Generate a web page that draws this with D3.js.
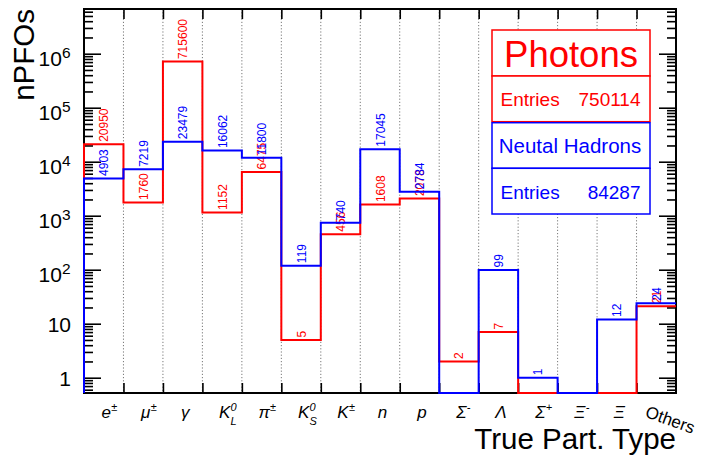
<!DOCTYPE html>
<html>
<head>
<meta charset="utf-8">
<script src="https://cdn.jsdelivr.net/npm/d3@7"></script>
<style>
  html, body { margin: 0; padding: 0; background: #fff; }
  svg { display: block; font-family: "Liberation Sans", Arial, Helvetica, sans-serif; }
</style>
</head>
<body>
<svg id="chart" width="704" height="455"></svg>
<script>
// Particle categories: base symbol, superscript and subscript parts
const categories = ["e", "μ", "γ", "K", "π", "K", "K", "n", "p", "Σ", "Λ", "Σ", "Ξ", "Ξ", "Others"];
const catSup     = ["±", "±", "",  "0", "±", "0", "±", "",  "",  "-", "",  "+", "-", "",  ""];
const catSub     = ["",  "",  "",  "L", "",  "S", "",  "",  "",  "",  "",  "",  "",  "",  ""];

// Counts per true particle type
const photons        = [20950, 1760, 715600, 1152, 6475, 5, 456, 1608, 2078, 2, 7, 0, 0, 0, 21];
const neutralHadrons = [4903, 7219, 23479, 16062, 11800, 119, 740, 17045, 2784, 0, 99, 1, 0, 12, 24];

const seriesNames   = ["Photons", "Neutal Hadrons"];
const seriesEntries = ["750114", "84287"];

// Y-axis decade labels (mantissa, exponent)
const yTickLabels = [["1", ""], ["10", ""], ["10", "2"], ["10", "3"], ["10", "4"], ["10", "5"], ["10", "6"]];
const yTickValues = [1, 10, 1e2, 1e3, 1e4, 1e5, 1e6];

const svg = d3.select("#chart");
const frame = { left: 84, right: 676, top: 9, bottom: 393 };
const n = categories.length;

const x = d3.scaleBand().domain(d3.range(n)).range([frame.left, frame.right]).paddingInner(0).paddingOuter(0);
const xEdge = d3.scaleLinear().domain([0, n]).range([frame.left, frame.right]);
const y = d3.scaleLog().domain([0.521, 6.73e6]).range([frame.bottom, frame.top]);
const bw = x.bandwidth();

// dotted vertical grid at bin edges
svg.append("g").selectAll("line")
  .data(d3.range(1, n))
  .join("line")
  .attr("x1", d => xEdge(d)).attr("x2", d => xEdge(d))
  .attr("y1", frame.top).attr("y2", frame.bottom)
  .attr("stroke", "#555").attr("stroke-width", 0.8)
  .attr("stroke-dasharray", "1.2,2");

// frame
svg.append("rect")
  .attr("x", frame.left).attr("y", frame.top)
  .attr("width", frame.right - frame.left).attr("height", frame.bottom - frame.top)
  .attr("fill", "none").attr("stroke", "#000").attr("stroke-width", 2);

// log axis ticks (left and right, pointing inwards)
const allTicks = y.ticks();
const isMajor = v => Math.abs(Math.log10(v) - Math.round(Math.log10(v))) < 1e-9;
const minorTicks = allTicks.filter(v => !isMajor(v));
const majorTicks = allTicks.filter(isMajor);

function tickAxis(axisFn, pos, vals, size) {
  const g = svg.append("g").attr("transform", pos)
    .call(axisFn(y).tickValues(vals).tickSize(size).tickFormat(""));
  g.select(".domain").remove();
  g.selectAll(".tick line").attr("stroke", "#000").attr("stroke-width", 1.6);
  return g;
}
tickAxis(d3.axisRight, `translate(${frame.left},0)`, minorTicks, 9);
tickAxis(d3.axisRight, `translate(${frame.left},0)`, majorTicks, 17);
tickAxis(d3.axisLeft, `translate(${frame.right},0)`, minorTicks, 9);
tickAxis(d3.axisLeft, `translate(${frame.right},0)`, majorTicks, 17);

// x ticks at bin edges (bottom up, top down)
function xTickAxis(axisFn, pos) {
  const g = svg.append("g").attr("transform", pos)
    .call(axisFn(xEdge).tickValues(d3.range(1, n)).tickSize(10).tickFormat(""));
  g.select(".domain").remove();
  g.selectAll(".tick line").attr("stroke", "#000").attr("stroke-width", 1.6);
}
xTickAxis(d3.axisTop, `translate(0,${frame.bottom})`);
xTickAxis(d3.axisBottom, `translate(0,${frame.top})`);

// y tick labels with exponents
const yLab = svg.append("g");
yTickValues.forEach((v, i) => {
  const ty = y(v);
  const [m, e] = yTickLabels[i];
  if (!e) {
    yLab.append("text").attr("x", 71).attr("y", ty + 8.5)
      .attr("text-anchor", "end").attr("font-size", 21).text(m);
  } else {
    const t = yLab.append("text").attr("x", 70.5).attr("y", ty + 12)
      .attr("text-anchor", "end").attr("font-size", 21);
    t.append("tspan").text(m);
    t.append("tspan").attr("dy", -8).attr("font-size", 15.5).text(e);
  }
});

// step outline for a histogram
function stepPoints(vals) {
  const pts = [[xEdge(0), frame.bottom]];
  vals.forEach((v, i) => {
    const yy = v > 0 ? y(v) : frame.bottom;
    pts.push([xEdge(i), yy], [xEdge(i + 1), yy]);
  });
  return pts;
}
const line = d3.line();

function drawSeries(vals, color) {
  svg.append("path")
    .attr("d", line(stepPoints(vals)))
    .attr("fill", "none").attr("stroke", color).attr("stroke-width", 2);
  svg.append("g").selectAll("text")
    .data(vals.map((v, i) => ({ v, i })).filter(d => d.v > 0))
    .join("text")
    .attr("transform", d => `translate(${x(d.i) + bw / 2 + 0.5},${y(d.v) - 2.5}) rotate(-90)`)
    .attr("text-anchor", "start").attr("dominant-baseline", "central")
    .attr("font-size", 12).attr("fill", color)
    .text(d => d.v);
}
drawSeries(photons, "#ff0000");
drawSeries(neutralHadrons, "#0000ff");

// x category labels (symbol with stacked super/subscript in one text element)
const xLab = svg.append("g");
const labBase = 417.5;
categories.forEach((c, i) => {
  const cx = x(i) + bw / 2;
  if (c === "Others") {
    xLab.append("text").attr("transform", `translate(${cx - 12},${labBase - 1}) rotate(20)`)
      .attr("font-size", 17).text(c);
    return;
  }
  const t = xLab.append("text").attr("y", labBase).attr("font-size", 17).attr("font-style", "italic");
  const b = t.append("tspan").text(c);
  const w = b.node().getComputedTextLength();
  const x0 = cx + 2.5 - w / 2;
  t.attr("x", x0);
  const sx = x0 + w + 0.3;
  if (catSup[i]) {
    t.append("tspan").attr("x", sx).attr("y", labBase - 6.5)
      .attr("font-size", 11).text(catSup[i]);
  }
  if (catSub[i]) {
    t.append("tspan").attr("x", sx).attr("y", labBase + 7.5)
      .attr("font-size", 11).text(catSub[i]);
  }
});

// axis titles
svg.append("text").attr("transform", "translate(33.5,9) rotate(-90)")
  .attr("text-anchor", "end").attr("font-size", 29.5).text("nPFOs");
svg.append("text").attr("x", 676).attr("y", 448.5)
  .attr("text-anchor", "end").attr("font-size", 29.5).text("True Part. Type");

// legend boxes
const lg = svg.append("g");
const lx = 492, lw = 158;
// Photons
lg.append("rect").attr("x", lx).attr("y", 30).attr("width", lw).attr("height", 46)
  .attr("fill", "#fff").attr("stroke", "#ff0000").attr("stroke-width", 1.5);
lg.append("rect").attr("x", lx).attr("y", 76).attr("width", lw).attr("height", 45.7)
  .attr("fill", "#fff").attr("stroke", "#ff0000").attr("stroke-width", 1.5);
lg.append("text").attr("x", lx + lw / 2).attr("y", 66.5).attr("text-anchor", "middle")
  .attr("font-size", 36.5).attr("fill", "#ff0000").text(seriesNames[0]);
lg.append("text").attr("x", 500.5).attr("y", 106).attr("font-size", 19).attr("fill", "#ff0000").text("Entries");
lg.append("text").attr("x", 640.5).attr("y", 106).attr("text-anchor", "end").attr("font-size", 19).attr("fill", "#ff0000").text(seriesEntries[0]);
// Neutral hadrons
lg.append("rect").attr("x", lx).attr("y", 122.7).attr("width", lw).attr("height", 45.6)
  .attr("fill", "#fff").attr("stroke", "#0000ff").attr("stroke-width", 1.5);
lg.append("rect").attr("x", lx).attr("y", 168.3).attr("width", lw).attr("height", 45.7)
  .attr("fill", "#fff").attr("stroke", "#0000ff").attr("stroke-width", 1.5);
lg.append("text").attr("x", lx + lw / 2 - 1).attr("y", 152.7).attr("text-anchor", "middle")
  .attr("font-size", 20.5).attr("fill", "#0000ff").text(seriesNames[1]);
lg.append("text").attr("x", 500.5).attr("y", 199).attr("font-size", 19).attr("fill", "#0000ff").text("Entries");
lg.append("text").attr("x", 640.5).attr("y", 199).attr("text-anchor", "end").attr("font-size", 19).attr("fill", "#0000ff").text(seriesEntries[1]);
</script>
</body>
</html>
